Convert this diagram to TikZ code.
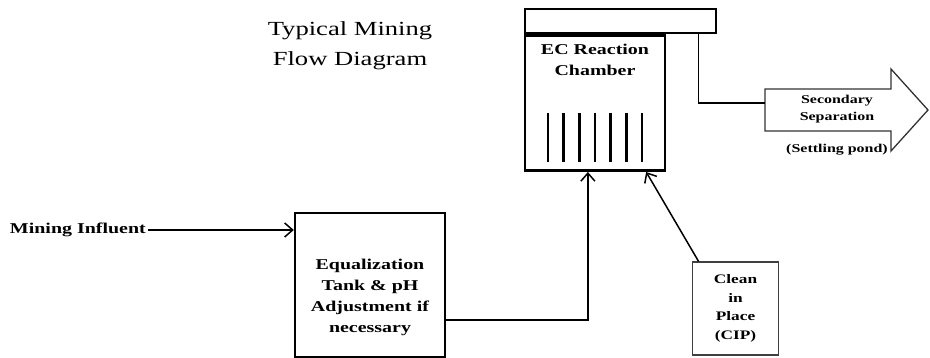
\documentclass[tikz,border=0pt]{standalone}
\usepackage{fontspec}
\setmainfont{Liberation Serif}[FakeStretch=1.33]
\usetikzlibrary{arrows.meta}
\tikzstyle{tank} = [rectangle, minimum width=150pt, minimum height=144pt, draw=black, line width=2.4pt]
\tikzstyle{chamber} = [rectangle, minimum width=140pt, minimum height=135pt, draw=black, line width=2.6pt]
\tikzstyle{lid} = [rectangle, minimum width=191pt, minimum height=24pt, draw=black, line width=2.8pt]
\tikzstyle{cip} = [rectangle, minimum width=85pt, minimum height=93pt, text centered, text width=80pt, draw=black!75, line width=1.2pt, font=\fontsize{13}{18.5}\selectfont\bfseries]
\tikzstyle{label} = [text centered, text width=140pt, inner sep=0pt, font=\fontsize{15}{21}\selectfont\bfseries]
\tikzstyle{arrow} = [line width=1.5pt, ->, >={Straight Barb[length=8pt,width=14pt]}]
\tikzstyle{pipe} = [line width=1.5pt]

\begin{document}
\begin{tikzpicture}[x=1pt, y=-1pt]
\useasboundingbox (0,0) rectangle (930,358);

\node (title) [anchor=base, align=center, inner sep=0pt, font=\fontsize{20}{30}\selectfont] at (350,66) {Typical Mining\\Flow Diagram};

\node (lid) [lid] at (620.5,21) {};

\node (chamber) [chamber, anchor=north west] at (lid.south west) {};

\node (chambertext) [label, anchor=base] at (595,55) {EC Reaction\\Chamber};

% electrodes
\foreach \i in {0,...,6}
  \draw [line width=2.8pt] (548+15.67*\i,113) -- (548+15.67*\i,162);

\node (eq) [tank] at (370,285) {};

\node (eqtext) [label, anchor=base] at (370,270) {Equalization\\Tank \& pH\\Adjustment if\\necessary};

\node (influent) [anchor=base east, inner sep=0pt, font=\fontsize{15}{18}\selectfont\bfseries] at (146,234) {Mining Influent};

\node (cip) [cip] at (735.5,308.5) {Clean\\in\\Place\\(CIP)};

% secondary separation block arrow
\coordinate (sep) at (765,110);
\draw [line width=1.3pt, draw=black!80] (sep) ++(0,-21) -- ++(126,0) -- ++(0,-20) -- (928,110) -- (891,151) -- ++(0,-20) -- ++(-126,0) -- cycle;

\node (septext) [anchor=base, align=center, inner sep=0pt, font=\fontsize{12}{17}\selectfont\bfseries] at (837,121) {Secondary\\Separation};

\node (pond) [anchor=base, inner sep=0pt, font=\fontsize{12}{14}\selectfont\bfseries] at (837,153) {(Settling pond)};

\draw [arrow] ([xshift=2pt]influent.east |- 0,230) -- (eq.west |- 0,230);
\draw [arrow] ([yshift=-35pt]eq.east) -| ([xshift=-7pt]chamber.south);
\draw [arrow] ([xshift=7pt]cip.north west) -- ([xshift=-20pt]chamber.south east);
\draw [pipe] ([xshift=-19pt]lid.south east) |- (sep |- 0,103);
\end{tikzpicture}
\end{document}
